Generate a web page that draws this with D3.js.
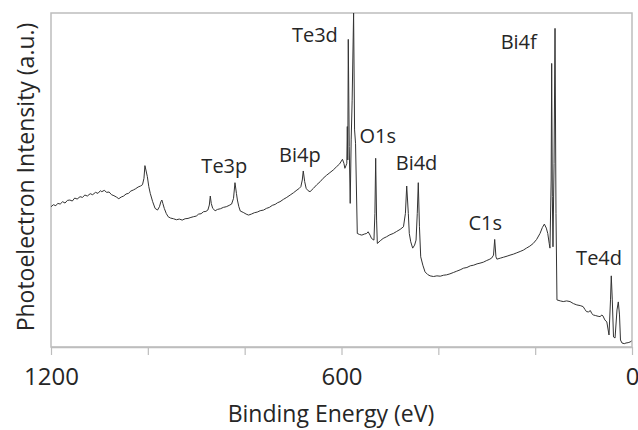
<!DOCTYPE html>
<html>
<head>
<meta charset="utf-8">
<script src="https://cdn.jsdelivr.net/npm/d3@7"></script>
<style>
  html, body { margin: 0; padding: 0; background: #ffffff; }
  svg { display: block; }
  text { font-family: "Open Sans", "Liberation Sans", sans-serif; fill: #262626; }
</style>
</head>
<body>
<svg id="chart" width="638" height="430"></svg>
<script>
// XPS survey spectrum: binding energy (eV) and photoelectron intensity (a.u.)
const bindingEnergy = [
  1200, 1195, 1190, 1186, 1181, 1176, 1171, 1166, 1161, 1156, 1151, 1146, 1140, 1135, 1130, 1125,
  1119, 1114, 1108, 1103, 1098, 1095, 1090, 1085, 1080, 1075, 1070, 1065, 1060, 1055, 1050, 1045,
  1040, 1035, 1030, 1025, 1020, 1015, 1011, 1008, 1006, 1004, 1001, 998, 995, 990, 985, 980,
  976, 973, 971, 969, 966, 962, 958, 953, 947, 941, 935, 929, 923, 917, 911, 906,
  900, 895, 890, 885, 880, 876, 873, 871, 869, 866, 861, 856, 850, 844, 838, 832,
  827, 823, 820, 817, 815, 812, 809, 803, 797, 792, 786, 780, 774, 768, 761, 755,
  749, 743, 737, 732, 727, 720, 713, 706, 699, 692, 688, 684, 681, 679, 676, 673,
  669, 665, 658, 651, 644, 638, 631, 624, 617, 610, 604, 598, 595, 593, 591, 589,
  588, 587, 586, 584, 582, 580, 578, 575, 573, 571, 567.4, 563, 558, 553, 548, 545,
  541, 538, 533, 531, 529.4, 527.5, 526, 520, 514, 507, 500, 493, 486, 479, 472, 468,
  465.3, 462, 460, 457, 453, 449, 446, 443.5, 441.4, 439, 436.4, 432, 427.5, 422, 417, 410,
  403, 396, 389, 383, 376, 369, 362, 355, 348, 341, 334, 327, 320, 314, 307, 300,
  295, 290, 286, 283.6, 281, 279, 272, 265, 258, 252, 245, 238, 231, 224.5, 218, 211,
  204, 197, 190, 185, 181, 177, 174, 171, 169.4, 167, 165.9, 164.5, 163.2, 161, 159, 157,
  155, 148, 142, 135, 128, 121, 114, 107, 101, 97, 94, 90, 86, 83, 80, 75,
  70, 66, 62, 60, 56, 52, 47.5, 44.4, 42.8, 40.7, 38.2, 35, 31, 28.3, 25.8, 23.8,
  20.7, 16, 12.4, 8, 4, 1
];

const intensity = [
  42.0, 42.6, 42.3, 43.0, 42.8, 43.5, 43.1, 43.9, 44.0, 43.7, 44.6, 44.3, 45.0, 44.8, 45.5, 45.2,
  45.9, 45.6, 46.3, 46.0, 46.8, 46.5, 46.9, 46.3, 46.4, 45.6, 45.3, 44.9, 44.4, 44.9, 45.2, 45.8,
  46.0, 46.7, 47.0, 47.4, 47.9, 48.2, 48.6, 50.5, 54.3, 53.0, 51.0, 48.0, 46.0, 43.5, 41.5, 41.0,
  42.0, 43.5, 44.0, 43.0, 41.5, 40.0, 39.0, 38.6, 38.4, 38.1, 38.3, 38.0, 38.4, 38.5, 38.8, 39.0,
  39.2, 39.8, 39.9, 40.5, 40.6, 41.0, 42.5, 45.2, 43.0, 41.5, 40.8, 41.2, 41.4, 41.8, 42.0, 42.4,
  42.8, 44.5, 49.2, 46.0, 44.0, 42.0, 40.7, 40.3, 39.8, 39.5, 39.8, 40.2, 40.4, 40.8, 41.0, 41.5,
  41.8, 42.4, 42.7, 43.2, 43.5, 44.2, 44.8, 45.5, 46.2, 47.0, 47.4, 48.0, 50.0, 52.7, 49.5, 47.5,
  46.8, 46.5, 47.5, 48.6, 49.5, 50.5, 51.4, 52.2, 53.0, 54.0, 54.8, 56.2, 55.0, 53.5, 54.2, 55.0,
  66.0, 56.0, 92.1, 60.0, 43.0, 62.0, 73.9, 100.0, 65.0, 61.0, 34.0, 33.7, 33.5, 33.8, 34.0, 34.5,
  33.5, 32.5, 32.0, 40.0, 56.5, 38.0, 31.0, 31.8, 32.5, 33.0, 33.6, 34.0, 34.6, 35.2, 36.0, 40.0,
  48.2, 40.0, 34.0, 31.5, 29.6, 30.5, 32.0, 40.0, 49.2, 36.0, 27.0, 24.5, 22.5, 21.7, 21.3, 21.1,
  21.3, 21.2, 21.5, 21.6, 21.9, 22.3, 22.7, 23.1, 23.6, 23.8, 24.3, 24.5, 24.9, 25.1, 25.4, 25.9,
  26.2, 26.6, 27.5, 32.2, 27.0, 26.3, 26.6, 26.9, 27.2, 27.5, 27.8, 28.2, 28.6, 29.0, 29.6, 30.2,
  31.0, 32.2, 34.0, 35.8, 36.8, 35.6, 34.0, 31.0, 29.6, 50.0, 84.9, 45.0, 30.0, 55.0, 95.4, 40.0,
  14.1, 13.8, 13.6, 13.8, 13.6, 13.0, 12.6, 12.4, 12.1, 11.2, 10.6, 10.5, 10.9, 10.0, 9.6, 9.4,
  9.2, 9.1, 9.6, 9.3, 8.1, 7.5, 3.6, 14.1, 21.3, 14.1, 3.0, 2.7, 11.1, 13.5, 9.6, 2.1,
  1.2, 1.0, 1.2, 1.3, 1.5, 1.8
];

// Peak assignments and where their labels sit (energy, intensity of label centre)
const peakNames = ["Te3p", "Bi4p", "Te3d", "O1s", "Bi4d", "C1s", "Bi4f", "Te4d"];
const peakLabelEnergy = [842, 686, 655, 525, 445, 303, 234, 68];
const peakLabelIntensity = [54.4, 57.5, 93.7, 63.2, 55.1, 37.4, 91.6, 26.9];

const xTickValues = [1200, 1000, 800, 600, 400, 200, 0];
const xTickLabels = ["1200", "", "", "600", "", "", "0"];

const svg = d3.select("#chart");
const plot = { left: 51, right: 632, top: 13, bottom: 347 };

const x = d3.scaleLinear().domain([1200, 0]).range([plot.left, plot.right]);
const y = d3.scaleLinear().domain([0, 100]).range([plot.bottom, plot.top]);

const spectrum = bindingEnergy.map((e, i) => ({ e, v: intensity[i] }));

svg.append("defs").append("clipPath").attr("id", "plot-clip")
  .append("rect")
  .attr("x", plot.left).attr("y", plot.top)
  .attr("width", plot.right - plot.left).attr("height", plot.bottom - plot.top);

// plot frame
svg.append("rect")
  .attr("x", plot.left).attr("y", plot.top)
  .attr("width", plot.right - plot.left).attr("height", plot.bottom - plot.top)
  .attr("fill", "none").attr("stroke", "#bdbdbd").attr("stroke-width", 1.5);

// bottom axis with ticks every 200 eV
const xAxis = d3.axisBottom(x)
  .tickValues(xTickValues)
  .tickFormat((d, i) => xTickLabels[i])
  .tickSize(8)
  .tickSizeOuter(0)
  .tickPadding(13);

const gx = svg.append("g")
  .attr("transform", `translate(0,${plot.bottom})`)
  .call(xAxis);
gx.select(".domain").attr("stroke", "#bdbdbd").attr("stroke-width", 1.5);
gx.selectAll(".tick line").attr("stroke", "#bdbdbd").attr("stroke-width", 1.2);
gx.selectAll(".tick text")
  .attr("fill", "#262626")
  .style("font-family", "'Open Sans', sans-serif")
  .style("font-size", "24px");

// spectrum trace
const line = d3.line()
  .x(d => x(d.e))
  .y(d => y(d.v));

svg.append("path")
  .datum(spectrum)
  .attr("clip-path", "url(#plot-clip)")
  .attr("d", line)
  .attr("fill", "none")
  .attr("stroke", "#333333")
  .attr("stroke-width", 1)
  .attr("stroke-linejoin", "round");

// peak labels
svg.append("g").selectAll("text")
  .data(peakNames)
  .join("text")
  .attr("x", (d, i) => x(peakLabelEnergy[i]))
  .attr("y", (d, i) => y(peakLabelIntensity[i]))
  .attr("text-anchor", "middle")
  .attr("dominant-baseline", "central")
  .style("font-size", "20px")
  .text(d => d);

// axis titles
svg.append("text")
  .attr("x", 331)
  .attr("y", 413)
  .attr("text-anchor", "middle")
  .attr("dominant-baseline", "central")
  .style("font-size", "23px")
  .text("Binding Energy (eV)");

svg.append("text")
  .attr("transform", "translate(25,177) rotate(-90)")
  .attr("text-anchor", "middle")
  .attr("dominant-baseline", "central")
  .style("font-size", "23px")
  .text("Photoelectron Intensity (a.u.)");
</script>
</body>
</html>
